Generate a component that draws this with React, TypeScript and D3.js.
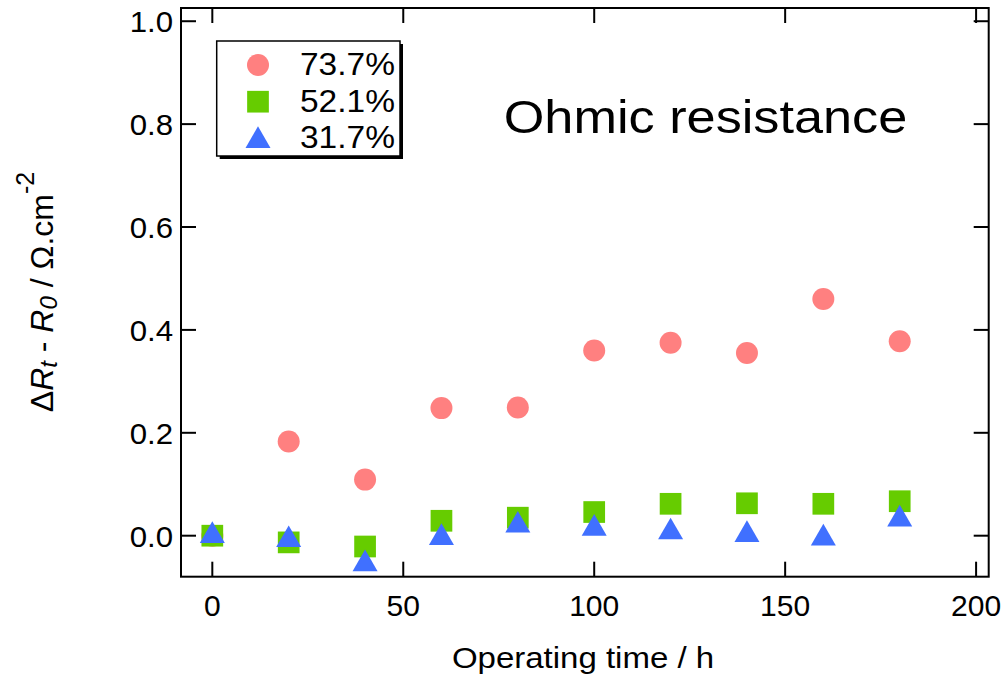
import React from "react";
import * as d3 from "d3";

// Operating time (h) and resistance change for each relative humidity
const times = [0, 20, 40, 60, 80, 100, 120, 140, 160, 180];
const rh737 = [0, 0.183, 0.109, 0.248, 0.249, 0.36, 0.375, 0.355, 0.46, 0.378];
const rh521 = [0, -0.013, -0.021, 0.029, 0.035, 0.046, 0.062, 0.063, 0.062, 0.067];
const rh317 = [0, -0.008, -0.055, -0.004, 0.02, 0.014, 0.007, 0.002, -0.005, 0.032];
const seriesLabels = ["73.7%", "52.1%", "31.7%"];
const xTicks = [0, 50, 100, 150, 200];
const yTicks = [0, 0.2, 0.4, 0.6, 0.8, 1.0];

const W = 1003;
const H = 679;
const frame = { left: 181, right: 988.7, top: 8, bottom: 576.7 };
const FONT = "'Liberation Sans', Arial, Helvetica, sans-serif";
const PINK = "#FF8080";
const GREEN = "#66CC00";
const BLUE = "#4070FF";
const TICK = 15;

const x = d3.scaleLinear().domain([-8.2, 203.3]).range([frame.left, frame.right]);
const y = d3.scaleLinear().domain([-0.0797, 1.0257]).range([frame.bottom, frame.top]);

const circleR = 11;
const squareS = 21.7;
const triSide = 25;
const triH = (triSide * Math.sqrt(3)) / 2;

// triangle positioned by its centroid
function trianglePath(cx: number, cy: number) {
  const apex = cy - (2 / 3) * triH;
  const base = cy + (1 / 3) * triH;
  return `M${cx},${apex}L${cx + triSide / 2},${base}L${cx - triSide / 2},${base}Z`;
}

export default function App() {
  const fmt = d3.format(".1f");
  return (
    <div style={{ position: "fixed", left: 0, top: 0, width: W, height: H, background: "#fff" }}>
      <svg width={W} height={H} style={{ display: "block" }} fontFamily={FONT}>
        {/* data markers */}
        <g>
          {times.map((t, i) => (
            <circle key={"c" + i} cx={x(t)} cy={y(rh737[i])} r={circleR} fill={PINK} />
          ))}
          {times.map((t, i) => (
            <rect
              key={"s" + i}
              x={x(t) - squareS / 2}
              y={y(rh521[i]) - squareS / 2}
              width={squareS}
              height={squareS}
              fill={GREEN}
            />
          ))}
          {times.map((t, i) => (
            <path key={"t" + i} d={trianglePath(x(t), y(rh317[i]))} fill={BLUE} />
          ))}
        </g>

        {/* frame */}
        <rect
          x={frame.left}
          y={frame.top}
          width={frame.right - frame.left}
          height={frame.bottom - frame.top}
          fill="none"
          stroke="#000"
          strokeWidth={2}
        />

        {/* x ticks (inward, mirrored) */}
        {xTicks.map((v) => (
          <g key={"xt" + v}>
            <line x1={x(v)} x2={x(v)} y1={frame.bottom} y2={frame.bottom - TICK} stroke="#000" strokeWidth={2} />
            <line x1={x(v)} x2={x(v)} y1={frame.top} y2={frame.top + TICK} stroke="#000" strokeWidth={2} />
            <text x={x(v)} y={615.7} fontSize={30} textAnchor="middle" fill="#000">
              {v}
            </text>
          </g>
        ))}

        {/* y ticks (inward, mirrored) */}
        {yTicks.map((v) => (
          <g key={"yt" + v}>
            <line x1={frame.left} x2={frame.left + TICK} y1={y(v)} y2={y(v)} stroke="#000" strokeWidth={2} />
            <line x1={frame.right} x2={frame.right - TICK} y1={y(v)} y2={y(v)} stroke="#000" strokeWidth={2} />
            <text
              transform={`translate(173,${y(v)}) scale(1.04,1)`}
              dy="0.36em"
              fontSize={30}
              textAnchor="end"
              fill="#000"
            >
              {fmt(v)}
            </text>
          </g>
        ))}

        {/* axis titles */}
        <text transform="translate(583,668.3) scale(1.1,1)" fontSize={30} textAnchor="middle" fill="#000">
          Operating time / h
        </text>
        <text transform="translate(53,292) rotate(-90)" fontSize={32} textAnchor="middle" fill="#000">
          <tspan>Δ</tspan>
          <tspan fontStyle="italic">R</tspan>
          <tspan fontStyle="italic" fontSize={24} dy={4}>t</tspan>
          <tspan dy={-4}> - </tspan>
          <tspan fontStyle="italic">R</tspan>
          <tspan fontStyle="italic" fontSize={24} dy={4}>0</tspan>
          <tspan dy={-4}> / Ω.cm</tspan>
          <tspan fontSize={25} dy={-19}>-2</tspan>
        </text>

        {/* panel title */}
        <text transform="translate(705.5,132.7) scale(1.136,1)" fontSize={46} textAnchor="middle" fill="#000">
          Ohmic resistance
        </text>

        {/* legend */}
        <g>
          <rect x={219.7} y={44} width={183.3} height={115} fill="#000" />
          <rect x={216.7} y={41} width={183.3} height={115} fill="#fff" stroke="#000" strokeWidth={1.5} />
          <circle cx={258} cy={65} r={circleR} fill={PINK} />
          <rect x={258 - squareS / 2} y={101.7 - squareS / 2} width={squareS} height={squareS} fill={GREEN} />
          <path d={trianglePath(258, 140.7)} fill={BLUE} />
          {seriesLabels.map((s, i) => (
            <text key={s} transform={`translate(300,${75 + i * 36.7}) scale(1.08,1)`} fontSize={31} fill="#000">
              {s}
            </text>
          ))}
        </g>
      </svg>
    </div>
  );
}
